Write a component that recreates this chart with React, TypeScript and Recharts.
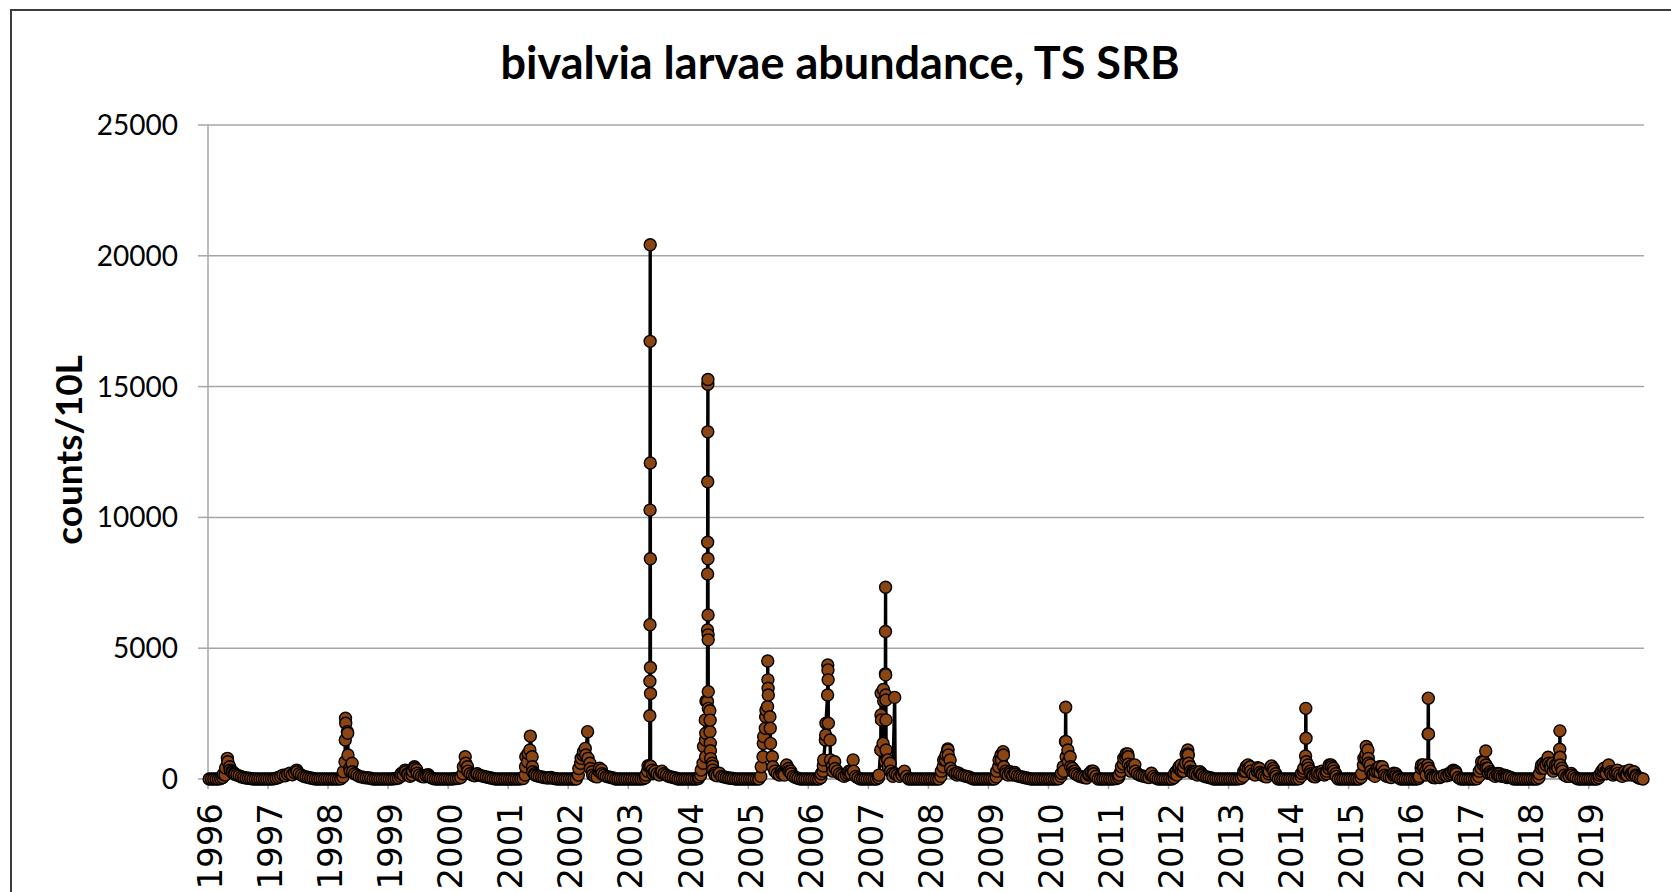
import React from 'react';
import { LineChart, Line, XAxis, YAxis, CartesianGrid } from 'recharts';

type Cell = number | number[];

// Chart texts
const chartTitle = 'bivalvia larvae abundance, TS SRB';
const yAxisTitle = 'counts/10L';

// Tick labels
const yearTicks = [1996, 1997, 1998, 1999, 2000, 2001, 2002, 2003, 2004, 2005, 2006, 2007, 2008, 2009, 2010, 2011, 2012, 2013, 2014, 2015, 2016, 2017, 2018, 2019];
const countTicks = [0, 5000, 10000, 15000, 20000, 25000];

// Each year holds 26 two-week sampling slots; a slot with several samples is a list.
const SLOTS_PER_YEAR = 26;

const y1996: Cell[] = [0, 0, 0, 0, 0, 20, [60, 180], [150, 420], [790, 660], [470, 340], [300, 250], [220, 180], 150,
  120, 80, 60, 40, 30, 20, 0, 0, 0, 0, 0, 0, 0];
const y1997: Cell[] = [0, 0, 10, 30, 60, 100, 150, 120, 180, 220, 160, 250, [340, 280],
  200, 150, 100, 80, 60, 40, 20, 0, 0, 0, 0, 0, 0];
const y1998: Cell[] = [0, 0, 0, 0, 0, 10, [80, 280], [660, 1490, 2320, 2130], [1810, 1750, 920], [410, 300], [600, 280], 200, 150,
  100, 80, 60, 50, 40, 30, 0, 0, 0, 0, 0, 0, 0];
const y1999: Cell[] = [0, 0, 10, 20, 40, [100, 200], [250, 150], [340, 280], [200, 150], 100, [150, 300], [470, 400], [350, 220],
  150, 100, 80, [150, 120], [160, 100], 60, 20, 0, 0, 0, 0, 0, 0];
const y2000: Cell[] = [0, 0, 10, 20, 30, 60, [200, 470], [850, 600], [470, 300], 200, 150, 120, [180, 200],
  150, 120, 100, 80, 60, 40, 20, 0, 0, 0, 0, 0, 0];
const y2001: Cell[] = [0, 0, 0, 0, 0, 10, 20, [150, 470, 850], [660, 980], [1110, 1640], [850, 470, 280], [200, 150], 120,
  100, 80, 60, 50, 40, 60, 30, 10, 0, 0, 0, 0, 0];
const y2002: Cell[] = [0, 0, 0, 0, [150, 400], [600, 790], [920, 1045], [1170, 920], [1810, 790], [600, 400], [280, 150], 100, 80,
  [300, 410], [350, 200], 150, 100, 80, 60, 40, 0, 0, 0, 0, 0, 0];
const y2003: Cell[] = [0, 0, 0, 0, 0, 0, 10, [50, 150], [300, 510], [490, 2420, 3740, 5900, 10280, 16730, 20420, 12080, 8420, 4265, 3270, 490], [340, 200], [250, 300], 200,
  150, [250, 300], 200, 150, 100, 80, 60, 40, 0, 0, 0, 0, 0];
const y2004: Cell[] = [0, 0, 0, 0, [20, 80], [150, 340], [600, 1240], [2260, 1490, 850, 1750, 2980], [2960, 5700, 7840, 9050, 11360, 13270, 15090, 15270, 8420, 6270, 5510, 5320, 3340, 2700], [2610, 1810, 2250, 1370, 1080, 780], [600, 490, 340], [220, 150], 120,
  220, 100, 80, 60, 40, 30, 20, 0, 0, 0, 0, 0, 0];
const y2005: Cell[] = [0, 0, 0, 0, 0, [100, 470], [850, 1360, 1620], [1940, 2380, 2640], [2770, 4510, 3790, 3470, 3210], [2380, 1940, 1360], [850, 470], 300, 200,
  150, [300, 200], [250, 150], [470, 535], [400, 300], [300, 200], 100, 60, 30, 0, 0, 0, 0];
const y2006: Cell[] = [0, 0, 0, 0, 0, [50, 200], [300, 500, 730], [1490, 1680, 2130], [3210, 4360, 4170, 3790, 2130], [1490, 730], [500, 300], [660, 400], 300,
  200, 150, 100, 150, [200, 300], [300, 200], [730, 300], 100, 50, 0, 0, 0, 0];
const y2007: Cell[] = [0, 0, 0, 0, [50, 150], [1110, 2450, 3280, 2260], [1360, 3420, 2980], [660, 4020, 5640, 7330, 3980, 3210, 3020, 2260, 1110], [730, 470], [600, 300], [200, 100], [3120, 200], 150,
  100, [200, 150], [250, 300], 100, 0, 0, 0, 0, 0, 0, 0, 0, 0];
const y2008: Cell[] = [0, 0, 0, 0, 0, [100, 300], [470, 730], [730, 920], [1150, 1110, 920], [730, 410], 300, 200, [150, 240],
  200, 150, 120, 100, 80, 40, 0, 0, 0, 0, 0, 0, 0];
const y2009: Cell[] = [0, 0, 0, [80, 300], [470, 730], [920, 730], [1045, 920, 470], [300, 200], 150, [280, 200], 150, [250, 180], 120,
  100, 80, 60, 40, 20, 0, 0, 0, 0, 0, 0, 0, 0];
const y2010: Cell[] = [0, 0, 0, 0, 10, [100, 220], [470, 300], [1430, 2740, 1430, 850], [1110, 660], [850, 470], [410, 280], [300, 200], 150,
  100, 80, 60, 40, [150, 200], [250, 300], [300, 200], 100, 0, 0, 0, 0, 0];
const y2011: Cell[] = [0, 0, 10, 20, [60, 150], [300, 470], [570, 790], [850, 960], [960, 850, 570], [470, 300], [540, 400], [540, 300], 200,
  150, 120, 100, 80, 60, [150, 220], 100, 40, 0, 0, 0, 0, 0];
const y2012: Cell[] = [0, 0, [50, 200], [300, 150], [400, 470], [540, 300], [300, 470], [600, 960], [1110, 960, 920, 600], [470, 300], [280, 220], [280, 200], 150,
  [220, 280], [200, 150], 100, 80, 60, 40, 0, 0, 0, 0, 0, 0, 0];
const y2013: Cell[] = [0, 0, 0, 0, 10, 30, [100, 300], [300, 470], [540, 400], [470, 300], 200, 150, [300, 430],
  [400, 250], [200, 150], 100, 80, [200, 300], [470, 500], [400, 300], [200, 100], 0, 0, 0, 0, 0];
const y2014: Cell[] = [0, 0, 0, 0, 10, [100, 220], [300, 410], [880, 2700, 1560, 660], [535, 410], [300, 200], [150, 100], 80, [150, 250],
  200, [300, 200], 150, [200, 300], [410, 535], [540, 470], [410, 300], [200, 100], 0, 0, 0, 0, 0];
const y2015: Cell[] = [0, 0, 0, 0, 0, [60, 200], [535, 790], [790, 960, 1240], [1110, 790, 600], [535, 300], [200, 150], [100, 300], [410, 300],
  [470, 250], [410, 470], [300, 150], 100, 80, 60, [150, 220], [200, 120], [90, 60], 0, 0, 0, 0];
const y2016: Cell[] = [0, 0, 0, 0, [30, 100], [410, 535], [540, 410], [300, 150], [535, 1720, 3090, 1720, 410], [300, 150], [100, 60], 50, 80,
  60, 100, 150, 120, [200, 150], [200, 280], [340, 300], [280, 200], 60, 0, 0, 0, 0];
const y2017: Cell[] = [0, 0, 0, 10, [100, 300], [410, 660], [535, 660], [1070, 535, 410], [410, 215], [280, 200], [200, 150], 100, [150, 215],
  [200, 120], 100, [150, 90], [120, 60], 80, 50, 0, 0, 0, 0, 0, 0, 0];
const y2018: Cell[] = [0, 0, 0, 0, [50, 200], [410, 535], [600, 410], [600, 535], [830, 600], [535, 410], [600, 300], [410, 535], [535, 410],
  [830, 1135, 1840, 830, 535], [410, 300], 150, 100, [150, 100], [215, 150], 100, 40, 0, 0, 0, 0, 0];
const y2019: Cell[] = [0, 0, 0, 0, [50, 150], [200, 300], [280, 410], [300, 200], [410, 535], [280, 200], 150, [200, 280], [340, 215],
  150, 100, [200, 280], [215, 150], [280, 340], [215, 150], [200, 280], [150, 100], 50, 20, 0];

const seriesByYear: [number, Cell[]][] = [
  [1996, y1996], [1997, y1997], [1998, y1998], [1999, y1999], [2000, y2000], [2001, y2001],
  [2002, y2002], [2003, y2003], [2004, y2004], [2005, y2005], [2006, y2006], [2007, y2007],
  [2008, y2008], [2009, y2009], [2010, y2010], [2011, y2011], [2012, y2012], [2013, y2013],
  [2014, y2014], [2015, y2015], [2016, y2016], [2017, y2017], [2018, y2018], [2019, y2019],
];

const data: { t: number; v: number }[] = [];
seriesByYear.forEach(([year, cells]) => {
  cells.forEach((cell, k) => {
    if (Array.isArray(cell)) {
      cell.forEach((v, j) => {
        data.push({ t: year + (k + 0.3 + (0.4 * (j + 0.5)) / cell.length) / SLOTS_PER_YEAR, v });
      });
    } else {
      data.push({ t: year + (k + 0.5) / SLOTS_PER_YEAR, v: cell });
    }
  });
});

const GRID = '#a6a6a6';

const XTick = (props: any) => {
  const { x, y, payload } = props;
  return (
    <text
      x={x}
      y={y}
      transform={`rotate(-90 ${x} ${y})`}
      textAnchor="end"
      dy="0.42em"
      fontFamily="'DejaVu Sans', sans-serif"
      fontSize={34}
      fill="#000"
    >
      {payload.value}
    </text>
  );
};

export default function App() {
  return (
    <div style={{ position: 'relative', width: 1671, height: 892, overflow: 'hidden', background: '#fff' }}>
      <style>{`html,body{margin:0;padding:0;overflow:hidden;background:#fff}`}</style>
      <div
        style={{
          position: 'absolute',
          left: 10,
          top: 9,
          width: 1720,
          height: 960,
          border: '2px solid #3c3c3c',
          boxSizing: 'border-box',
        }}
      />
      <div style={{ position: 'absolute', left: 0, top: 0 }}>
        <LineChart width={1671} height={892} data={data} margin={{ top: 125, right: 27, bottom: 0, left: 108 }}>
          <CartesianGrid horizontal vertical={false} stroke={GRID} strokeWidth={1.5} />
          <XAxis
            dataKey="t"
            type="number"
            domain={[1996, 2019.92]}
            ticks={yearTicks}
            interval={0}
            height={113}
            tickSize={10}
            tickMargin={14}
            axisLine={{ stroke: GRID, strokeWidth: 1.5 }}
            tickLine={{ stroke: GRID, strokeWidth: 1.5 }}
            tick={<XTick />}
          />
          <YAxis
            type="number"
            domain={[0, 25000]}
            ticks={countTicks}
            interval={0}
            width={100}
            tickSize={10}
            tickMargin={20}
            axisLine={{ stroke: GRID, strokeWidth: 1.5 }}
            tickLine={{ stroke: GRID, strokeWidth: 1.5 }}
            tick={{ fontFamily: 'Lato, sans-serif', fontSize: 28, fill: '#000' }}
          />
          <Line
            type="linear"
            dataKey="v"
            stroke="#000"
            strokeWidth={3.4}
            isAnimationActive={false}
            dot={{ r: 6, fill: '#8B4513', stroke: '#000', strokeWidth: 1.4 }}
            activeDot={false}
          />
        </LineChart>
      </div>
      <svg width={1671} height={892} style={{ position: 'absolute', left: 0, top: 0, pointerEvents: 'none' }}>
        <text x={840} y={79} textAnchor="middle" fontFamily="Lato, sans-serif" fontWeight={700} fontSize={45} fill="#000">
          {chartTitle}
        </text>
        <text
          transform="translate(82 450) rotate(-90)"
          textAnchor="middle"
          fontFamily="Lato, sans-serif"
          fontWeight={700}
          fontSize={37}
          fill="#000"
        >
          {yAxisTitle}
        </text>
      </svg>
    </div>
  );
}
